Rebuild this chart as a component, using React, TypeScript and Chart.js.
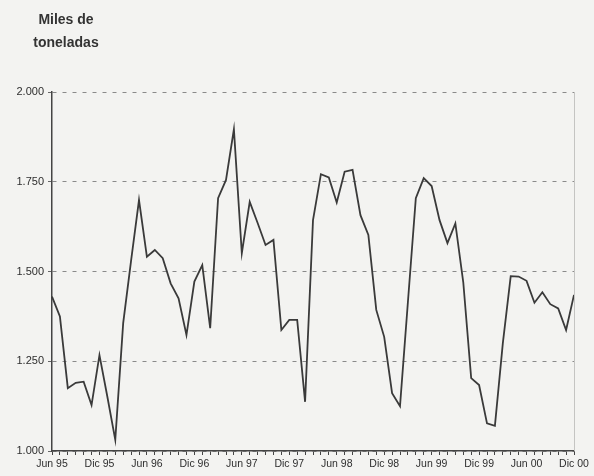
import React, { useEffect, useRef } from "react";
import { Chart, registerables } from "chart.js";

Chart.register(...registerables);

// Monthly categories Jun 95 .. Dic 00
const categories: string[] = [
  "Jun 95", "Jul 95", "Ago 95", "Sep 95", "Oct 95", "Nov 95", "Dic 95",
  "Ene 96", "Feb 96", "Mar 96", "Abr 96", "May 96", "Jun 96", "Jul 96", "Ago 96", "Sep 96", "Oct 96", "Nov 96", "Dic 96",
  "Ene 97", "Feb 97", "Mar 97", "Abr 97", "May 97", "Jun 97", "Jul 97", "Ago 97", "Sep 97", "Oct 97", "Nov 97", "Dic 97",
  "Ene 98", "Feb 98", "Mar 98", "Abr 98", "May 98", "Jun 98", "Jul 98", "Ago 98", "Sep 98", "Oct 98", "Nov 98", "Dic 98",
  "Ene 99", "Feb 99", "Mar 99", "Abr 99", "May 99", "Jun 99", "Jul 99", "Ago 99", "Sep 99", "Oct 99", "Nov 99", "Dic 99",
  "Ene 00", "Feb 00", "Mar 00", "Abr 00", "May 00", "Jun 00", "Jul 00", "Ago 00", "Sep 00", "Oct 00", "Nov 00", "Dic 00",
];

// Labelled ticks (every 6 months)
const tickLabels: string[] = [
  "Jun 95", "Dic 95", "Jun 96", "Dic 96", "Jun 97", "Dic 97",
  "Jun 98", "Dic 98", "Jun 99", "Dic 99", "Jun 00", "Dic 00",
];

// Miles de toneladas
const values: number[] = [
  1430, 1375, 1175, 1190, 1193, 1128, 1267,
  1151, 1031, 1356, 1530, 1699, 1541, 1560, 1537, 1467, 1425, 1323, 1472,
  1518, 1342, 1704, 1755, 1896, 1551, 1694, 1635, 1574, 1588, 1337, 1365,
  1365, 1137, 1643, 1771, 1762, 1692, 1778, 1783, 1657, 1602, 1393, 1318,
  1161, 1125, 1415, 1704, 1760, 1738, 1643, 1579, 1634, 1470, 1203, 1184,
  1077, 1070, 1300, 1487, 1486, 1474, 1413, 1442, 1409, 1397, 1337, 1435,
];

const yTicks: number[] = [1000, 1250, 1500, 1750, 2000];

const fmt = (v: number) => `${Math.floor(v / 1000)}.${String(v % 1000).padStart(3, "0")}`;

const frame = {
  id: "frame",
  afterDraw(chart: any) {
    const { ctx, chartArea } = chart;
    ctx.save();
    ctx.strokeStyle = "#c4c4c2";
    ctx.lineWidth = 1;
    ctx.beginPath();
    ctx.moveTo(chartArea.right + 0.5, chartArea.top);
    ctx.lineTo(chartArea.right + 0.5, chartArea.bottom);
    ctx.stroke();
    ctx.restore();
  },
};

export default function App() {
  const ref = useRef<HTMLCanvasElement | null>(null);
  useEffect(() => {
    if (!ref.current) return;
    const chart = new Chart(ref.current, {
      type: "line",
      data: {
        labels: categories,
        datasets: [
          {
            data: values,
            borderColor: "#3a3a3a",
            borderWidth: 1.8,
            pointRadius: 0,
            tension: 0,
            fill: false,
          },
        ],
      },
      options: {
        animation: false,
        responsive: false,
        layout: { padding: { top: 92, right: 20, left: 0, bottom: 0 } },
        plugins: { legend: { display: false }, tooltip: { enabled: false }, title: { display: false } },
        scales: {
          x: {
            type: "category",
            offset: false,
            afterFit: (s: any) => {
              s.height = 25;
            },
            grid: {
              display: true,
              drawOnChartArea: false,
              drawTicks: true,
              tickLength: 4,
              color: "#444",
            },
            border: { display: true, color: "#444", width: 1.5 },
            ticks: {
              autoSkip: false,
              maxRotation: 0,
              minRotation: 0,
              padding: 3,
              color: "#2e2e2e",
              font: { family: "'Liberation Sans', Arial, sans-serif", size: 10.5 },
              callback: function (this: any, _v: any, i: number) {
                const lab = categories[i];
                return tickLabels.includes(lab) ? lab : "";
              },
            },
          },
          y: {
            min: 1000,
            max: 2000,
            afterFit: (s: any) => {
              s.width = 52;
            },
            afterBuildTicks: (s: any) => {
              s.ticks = yTicks.map((v) => ({ value: v }));
            },
            grid: {
              color: "#8a8a8a",
              lineWidth: 1,
              drawTicks: true,
              tickLength: 4,
              tickColor: "#666",
              tickBorderDash: [],
            },
            border: { display: true, color: "#444", width: 1.5, dash: [4, 6] },
            ticks: {
              padding: 4,
              color: "#2e2e2e",
              font: { family: "'Liberation Sans', Arial, sans-serif", size: 11 },
              callback: (v: any) => fmt(Number(v)),
            },
          },
        },
      },
      plugins: [frame],
    } as any);
    return () => chart.destroy();
  }, []);

  return (
    <div style={{ position: "absolute", left: 0, top: 0, width: 594, height: 476, background: "#f3f3f1", overflow: "hidden" }}>
      <canvas ref={ref} width={594} height={476} style={{ position: "absolute", left: 0, top: 0 }} />
      <div
        style={{
          position: "absolute",
          left: 16,
          top: 8,
          width: 100,
          textAlign: "center",
          fontFamily: "'Liberation Sans', Arial, sans-serif",
          fontWeight: "bold",
          fontSize: 14,
          lineHeight: "23px",
          color: "#333",
        }}
      >
        Miles de
        <br />
        toneladas
      </div>
    </div>
  );
}
